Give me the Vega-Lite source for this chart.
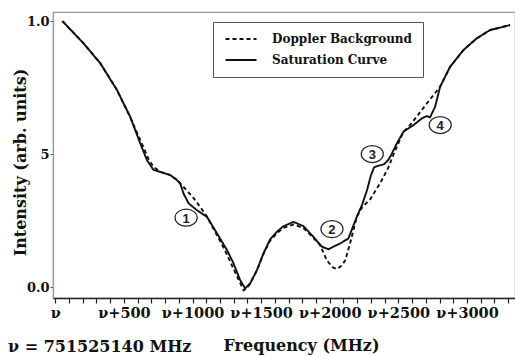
{
  "$schema": "https://vega.github.io/schema/vega-lite/v6.json",
  "width": 462,
  "height": 286,
  "autosize": {"type": "none"},
  "padding": {"left": 53, "top": 12, "right": 0, "bottom": 58},
  "background": "white",
  "config": {
    "view": {"stroke": "#999", "strokeWidth": 1.2},
    "font": "DejaVu Serif",
    "axis": {"labelFont": "DejaVu Serif", "labelFontWeight": "bold", "titleFont": "DejaVu Serif", "titleFontWeight": "bold", "labelColor": "#111", "titleColor": "#111", "grid": false}
  },
  "title": {
    "text": "ν = 751525140 MHz",
    "orient": "bottom",
    "anchor": "start",
    "frame": "group",
    "baseline": "alphabetic",
    "dx": -45,
    "offset": 0,
    "dy": -1,
    "font": "DejaVu Serif",
    "fontWeight": "bold",
    "fontSize": 16,
    "color": "#111"
  },
  "datasets": {
    "curves": [
      {"series": "Saturation Curve", "f": 51, "i": 1.0},
      {"series": "Saturation Curve", "f": 206, "i": 0.916},
      {"series": "Saturation Curve", "f": 328, "i": 0.841},
      {"series": "Saturation Curve", "f": 449, "i": 0.741},
      {"series": "Saturation Curve", "f": 546, "i": 0.64},
      {"series": "Saturation Curve", "f": 619, "i": 0.54},
      {"series": "Saturation Curve", "f": 668, "i": 0.477},
      {"series": "Saturation Curve", "f": 716, "i": 0.44},
      {"series": "Saturation Curve", "f": 765, "i": 0.433},
      {"series": "Saturation Curve", "f": 838, "i": 0.421},
      {"series": "Saturation Curve", "f": 880, "i": 0.405},
      {"series": "Saturation Curve", "f": 910, "i": 0.39},
      {"series": "Saturation Curve", "f": 934, "i": 0.352},
      {"series": "Saturation Curve", "f": 971, "i": 0.315},
      {"series": "Saturation Curve", "f": 1032, "i": 0.289},
      {"series": "Saturation Curve", "f": 1105, "i": 0.264},
      {"series": "Saturation Curve", "f": 1178, "i": 0.202},
      {"series": "Saturation Curve", "f": 1251, "i": 0.139},
      {"series": "Saturation Curve", "f": 1299, "i": 0.089},
      {"series": "Saturation Curve", "f": 1347, "i": 0.026},
      {"series": "Saturation Curve", "f": 1384, "i": -0.005},
      {"series": "Saturation Curve", "f": 1420, "i": 0.014},
      {"series": "Saturation Curve", "f": 1469, "i": 0.064},
      {"series": "Saturation Curve", "f": 1517, "i": 0.127},
      {"series": "Saturation Curve", "f": 1566, "i": 0.18},
      {"series": "Saturation Curve", "f": 1615, "i": 0.208},
      {"series": "Saturation Curve", "f": 1660, "i": 0.228},
      {"series": "Saturation Curve", "f": 1736, "i": 0.245},
      {"series": "Saturation Curve", "f": 1808, "i": 0.229},
      {"series": "Saturation Curve", "f": 1881, "i": 0.189},
      {"series": "Saturation Curve", "f": 1942, "i": 0.152},
      {"series": "Saturation Curve", "f": 1991, "i": 0.142},
      {"series": "Saturation Curve", "f": 2027, "i": 0.152},
      {"series": "Saturation Curve", "f": 2076, "i": 0.164},
      {"series": "Saturation Curve", "f": 2136, "i": 0.183},
      {"series": "Saturation Curve", "f": 2197, "i": 0.264},
      {"series": "Saturation Curve", "f": 2236, "i": 0.31},
      {"series": "Saturation Curve", "f": 2272, "i": 0.365},
      {"series": "Saturation Curve", "f": 2300, "i": 0.42},
      {"series": "Saturation Curve", "f": 2323, "i": 0.45},
      {"series": "Saturation Curve", "f": 2345, "i": 0.455},
      {"series": "Saturation Curve", "f": 2396, "i": 0.462},
      {"series": "Saturation Curve", "f": 2425, "i": 0.477},
      {"series": "Saturation Curve", "f": 2447, "i": 0.496},
      {"series": "Saturation Curve", "f": 2489, "i": 0.54},
      {"series": "Saturation Curve", "f": 2537, "i": 0.584},
      {"series": "Saturation Curve", "f": 2610, "i": 0.609},
      {"series": "Saturation Curve", "f": 2671, "i": 0.634},
      {"series": "Saturation Curve", "f": 2707, "i": 0.643},
      {"series": "Saturation Curve", "f": 2731, "i": 0.638},
      {"series": "Saturation Curve", "f": 2768, "i": 0.678},
      {"series": "Saturation Curve", "f": 2804, "i": 0.753},
      {"series": "Saturation Curve", "f": 2877, "i": 0.828},
      {"series": "Saturation Curve", "f": 2974, "i": 0.891},
      {"series": "Saturation Curve", "f": 3071, "i": 0.935},
      {"series": "Saturation Curve", "f": 3168, "i": 0.966},
      {"series": "Saturation Curve", "f": 3314, "i": 0.985},
      {"series": "Doppler Background", "f": 51, "i": 1.0},
      {"series": "Doppler Background", "f": 206, "i": 0.916},
      {"series": "Doppler Background", "f": 328, "i": 0.841},
      {"series": "Doppler Background", "f": 449, "i": 0.741},
      {"series": "Doppler Background", "f": 546, "i": 0.638},
      {"series": "Doppler Background", "f": 630, "i": 0.54},
      {"series": "Doppler Background", "f": 680, "i": 0.48},
      {"series": "Doppler Background", "f": 716, "i": 0.452},
      {"series": "Doppler Background", "f": 765, "i": 0.433},
      {"series": "Doppler Background", "f": 838, "i": 0.421},
      {"series": "Doppler Background", "f": 880, "i": 0.405},
      {"series": "Doppler Background", "f": 910, "i": 0.39},
      {"series": "Doppler Background", "f": 960, "i": 0.362},
      {"series": "Doppler Background", "f": 1007, "i": 0.335},
      {"series": "Doppler Background", "f": 1060, "i": 0.298},
      {"series": "Doppler Background", "f": 1105, "i": 0.265},
      {"series": "Doppler Background", "f": 1178, "i": 0.195},
      {"series": "Doppler Background", "f": 1230, "i": 0.145},
      {"series": "Doppler Background", "f": 1275, "i": 0.095},
      {"series": "Doppler Background", "f": 1320, "i": 0.045},
      {"series": "Doppler Background", "f": 1350, "i": 0.012},
      {"series": "Doppler Background", "f": 1372, "i": -0.012},
      {"series": "Doppler Background", "f": 1395, "i": -0.005},
      {"series": "Doppler Background", "f": 1420, "i": 0.014},
      {"series": "Doppler Background", "f": 1469, "i": 0.062},
      {"series": "Doppler Background", "f": 1517, "i": 0.125},
      {"series": "Doppler Background", "f": 1566, "i": 0.175},
      {"series": "Doppler Background", "f": 1615, "i": 0.203},
      {"series": "Doppler Background", "f": 1660, "i": 0.222},
      {"series": "Doppler Background", "f": 1736, "i": 0.235},
      {"series": "Doppler Background", "f": 1808, "i": 0.222},
      {"series": "Doppler Background", "f": 1881, "i": 0.185},
      {"series": "Doppler Background", "f": 1930, "i": 0.158},
      {"series": "Doppler Background", "f": 1979, "i": 0.1},
      {"series": "Doppler Background", "f": 2020, "i": 0.075},
      {"series": "Doppler Background", "f": 2052, "i": 0.068},
      {"series": "Doppler Background", "f": 2085, "i": 0.08},
      {"series": "Doppler Background", "f": 2112, "i": 0.1},
      {"series": "Doppler Background", "f": 2148, "i": 0.164},
      {"series": "Doppler Background", "f": 2197, "i": 0.264},
      {"series": "Doppler Background", "f": 2236, "i": 0.3},
      {"series": "Doppler Background", "f": 2294, "i": 0.33},
      {"series": "Doppler Background", "f": 2367, "i": 0.39},
      {"series": "Doppler Background", "f": 2425, "i": 0.447},
      {"series": "Doppler Background", "f": 2470, "i": 0.505},
      {"series": "Doppler Background", "f": 2537, "i": 0.584},
      {"series": "Doppler Background", "f": 2570, "i": 0.6},
      {"series": "Doppler Background", "f": 2610, "i": 0.625},
      {"series": "Doppler Background", "f": 2707, "i": 0.69},
      {"series": "Doppler Background", "f": 2804, "i": 0.753},
      {"series": "Doppler Background", "f": 2877, "i": 0.828},
      {"series": "Doppler Background", "f": 2974, "i": 0.891},
      {"series": "Doppler Background", "f": 3071, "i": 0.935},
      {"series": "Doppler Background", "f": 3168, "i": 0.966},
      {"series": "Doppler Background", "f": 3314, "i": 0.985}
    ],
    "labels": [
      {"label": "1", "f": 953, "i": 0.261},
      {"label": "2", "f": 2016, "i": 0.218},
      {"label": "3", "f": 2310, "i": 0.5},
      {"label": "4", "f": 2805, "i": 0.609}
    ]
  },
  "layer": [
    {
      "data": {"name": "curves"},
      "mark": {"type": "line", "color": "#111", "strokeWidth": 1.9, "clip": true},
      "encoding": {
        "x": {
          "field": "f", "type": "quantitative",
          "scale": {"domain": [-17, 3350], "nice": false, "zero": false},
          "axis": {
            "title": "Frequency (MHz)",
            "titleFontSize": 16,
            "titleX": 248,
            "titleY": 52,
            "titleBaseline": "alphabetic",
            "values": [0,100,200,300,400,500,600,700,800,900,1000,1100,1200,1300,1400,1500,1600,1700,1800,1900,2000,2100,2200,2300,2400,2500,2600,2700,2800,2900,3000,3100,3200,3300],
            "tickCount": 40,
            "labelExpr": "datum.value % 500 === 0 ? (datum.value === 0 ? 'ν' : 'ν+' + datum.value) : ''",
            "labelFontSize": 14.5,
            "labelFlush": false,
            "labelOverlap": false,
            "labelPadding": 3,
            "tickSize": 5,
            "tickColor": "#222",
            "tickWidth": 1.2,
            "domainColor": "#222",
            "domainWidth": 1.5,
            "encode": {"ticks": {"update": {"y2": {"signal": "datum.value % 500 === 0 ? -7 : -3.5"}}}}
          }
        },
        "y": {
          "field": "i", "type": "quantitative",
          "scale": {"domain": [-0.041, 1.034], "nice": false, "zero": false},
          "axis": {
            "title": "Intensity (arb. units)",
            "titleFontSize": 16,
            "titleX": -25,
            "titleY": 150,
            "values": [0, 0.5, 1],
            "labelExpr": "datum.value === 0.5 ? '5' : format(datum.value, '.1f')",
            "labelFontSize": 13,
            "labelFlush": false,
            "labelPadding": 1,
            "tickSize": 3,
            "tickColor": "#555",
            "domainColor": "#999",
            "domainWidth": 1.2
          }
        },
        "strokeDash": {
          "field": "series", "type": "nominal",
          "scale": {"domain": ["Doppler Background", "Saturation Curve"], "range": [[4, 3], [1, 0]]},
          "legend": {
            "orient": "none",
            "legendX": 160,
            "legendY": 10,
            "title": null,
            "strokeColor": "#555",
            "fillColor": "white",
            "padding": 11,
            "symbolType": "M-3.1,0L3.1,0",
            "symbolSize": 100,
            "symbolOffset": 11,
            "symbolStrokeWidth": 1.8,
            "symbolStrokeColor": "#111",
            "labelOffset": 25,
            "rowPadding": 9,
            "labelFont": "DejaVu Serif",
            "labelFontWeight": "bold",
            "labelFontSize": 12,
            "labelColor": "#111"
          }
        }
      }
    },
    {
      "data": {"name": "labels"},
      "mark": {"type": "point", "shape": "M-1.3,0A1.3,1,0,1,0,1.3,0A1.3,1,0,1,0,-1.3,0Z", "size": 289, "filled": false, "stroke": "#222", "strokeWidth": 1.2, "opacity": 1},
      "encoding": {
        "x": {"field": "f", "type": "quantitative"},
        "y": {"field": "i", "type": "quantitative"}
      }
    },
    {
      "data": {"name": "labels"},
      "mark": {"type": "text", "font": "Liberation Sans", "fontWeight": "bold", "fontSize": 13, "color": "#222", "baseline": "middle", "dy": 1},
      "encoding": {
        "x": {"field": "f", "type": "quantitative"},
        "y": {"field": "i", "type": "quantitative"},
        "text": {"field": "label"}
      }
    }
  ]
}
